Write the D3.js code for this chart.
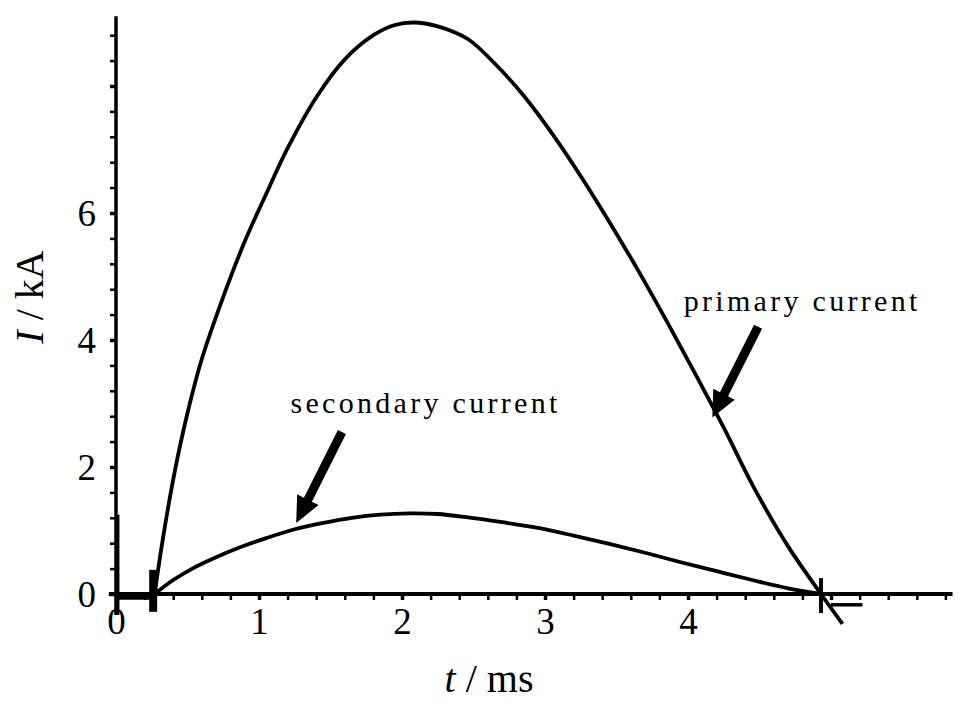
<!DOCTYPE html>
<html><head><meta charset="utf-8">
<script src="https://cdn.jsdelivr.net/npm/d3@7"></script>
<style>
body{margin:0;background:#fff;}
svg text{font-family:"Liberation Serif","Times New Roman",serif;fill:#000;}
</style></head>
<body><svg id="c" width="960" height="703"></svg>
<script>
// ---- data ----
const primaryT = [0.27,0.33,0.41,0.50,0.60,0.75,0.90,1.05,1.20,1.40,1.60,1.80,1.95,2.08,2.25,2.46,2.65,2.85,3.05,3.25,3.45,3.65,3.85,4.05,4.25,4.46,4.70,4.93,5.08];
const primaryI = [0,0.9,1.92,2.85,3.70,4.68,5.55,6.30,7.02,7.82,8.42,8.80,8.96,9.0,8.94,8.74,8.35,7.85,7.25,6.58,5.86,5.10,4.30,3.47,2.62,1.68,0.75,0,-0.47];
const secondaryT = [0.27,0.40,0.55,0.70,0.85,1.05,1.25,1.45,1.65,1.85,2.05,2.25,2.45,2.70,2.95,3.20,3.45,3.70,3.95,4.20,4.45,4.70,4.93];
const secondaryI = [0,0.22,0.42,0.58,0.72,0.88,1.02,1.12,1.20,1.25,1.27,1.26,1.21,1.13,1.04,0.92,0.79,0.65,0.50,0.36,0.22,0.09,0];
// extra recorded traces: [t0, I0, t1, I1]
const baselineSeg = [0.0,-0.05,0.26,-0.05];
const spikeSegs = [[0.01,-0.33,0.01,1.25],[0.26,-0.28,0.26,0.38],[4.93,0.25,4.93,-0.3],[5.0,-0.17,5.22,-0.17]];
const yTickValues = [0,0.4,0.8,1.2,1.6,2,2.4,2.8,3.2,3.6,4,4.4,4.8,5.2,5.6,6,6.4,6.8,7.2,7.6,8,8.4,8.8];
const yTickLabels = ["0","2","4","6"];
const xTickValues = [0,0.2,0.4,0.6,0.8,1,1.2,1.4,1.6,1.8,2,2.2,2.4,2.6,2.8,3,3.2,3.4,3.6,3.8,4,4.2,4.4,4.6,4.8,5,5.2,5.4,5.6,5.8];
const xTickLabels = ["0","1","2","3","4"];
const labels = [{text:"primary current", t:3.97, I:4.45},{text:"secondary current", t:1.22, I:2.85}];
const arrows = [{t0:4.49,I0:4.21,t1:4.17,I1:2.78},{t0:1.58,I0:2.55,t1:1.26,I1:1.12}];

// ---- chart ----
const svg = d3.select("#c");
const x = d3.scaleLinear().domain([0,5.85]).range([116,116+143*5.85]);
const y = d3.scaleLinear().domain([0,9.2]).range([594,594-63.5*9.2]);

// axes
const yAxis = d3.axisLeft(y).tickValues(yTickValues).tickSize(6).tickPadding(14)
  .tickFormat(d => yTickLabels.includes(String(d)) ? String(d) : "");
const gy = svg.append("g").attr("transform",`translate(${x(0)},0)`).call(yAxis);
gy.select(".domain").remove();
gy.selectAll(".tick line").attr("stroke","#000").attr("stroke-width",d=>Number.isInteger(d)?3.5:2.5);
gy.selectAll(".tick text").style("font-size","37px").attr("dy","0.35em");

const xAxis = d3.axisBottom(x).tickValues(xTickValues).tickSize(6).tickPadding(8)
  .tickFormat(d => xTickLabels.includes(String(d)) ? String(d) : "");
const gx = svg.append("g").attr("transform",`translate(0,${y(0)})`).call(xAxis);
gx.select(".domain").remove();
gx.selectAll(".tick line").attr("stroke","#000").attr("stroke-width",d=>Number.isInteger(d)?3.5:2.5);
gx.selectAll(".tick text").style("font-size","37px");

// axis lines
svg.append("line").attr("x1",x(0)).attr("x2",x(0)).attr("y1",y(9.1)).attr("y2",y(-0.33))
  .attr("stroke","#000").attr("stroke-width",3.5);
svg.append("line").attr("x1",x(-0.05)).attr("x2",x(5.85)).attr("y1",y(0)).attr("y2",y(0))
  .attr("stroke","#000").attr("stroke-width",4);

// traces
const line = d3.line().x(d=>x(d[0])).y(d=>y(d[1])).curve(d3.curveCatmullRom.alpha(0.5));
svg.append("path").datum(primaryT.map((t,i)=>[t,primaryI[i]])).attr("d",line)
  .attr("fill","none").attr("stroke","#000").attr("stroke-width",3.8);
svg.append("path").datum(secondaryT.map((t,i)=>[t,secondaryI[i]])).attr("d",line)
  .attr("fill","none").attr("stroke","#000").attr("stroke-width",3.8);
svg.append("line").attr("x1",x(baselineSeg[0])).attr("y1",y(baselineSeg[1]))
  .attr("x2",x(baselineSeg[2])).attr("y2",y(baselineSeg[3])).attr("stroke","#000").attr("stroke-width",5);
const spikeW = [4,8,4,3.5];
spikeSegs.forEach((s,i)=>{
  svg.append("line").attr("x1",x(s[0])).attr("y1",y(s[1])).attr("x2",x(s[2])).attr("y2",y(s[3]))
    .attr("stroke","#000").attr("stroke-width",spikeW[i]);
});

// arrows
arrows.forEach(a=>{
  const x0=x(a.t0),y0=y(a.I0),x1=x(a.t1),y1=y(a.I1);
  const dx=x1-x0, dy=y1-y0, L=Math.hypot(dx,dy), ux=dx/L, uy=dy/L, px=-uy, py=ux;
  const sw=4.5, hw=12, hl=26;
  const bx=x1-ux*hl, by=y1-uy*hl;
  const pts=[[x0+px*sw,y0+py*sw],[bx+px*sw,by+py*sw],[bx+px*hw,by+py*hw],[x1,y1],
             [bx-px*hw,by-py*hw],[bx-px*sw,by-py*sw],[x0-px*sw,y0-py*sw]];
  svg.append("polygon").attr("points",pts.map(p=>p.join(",")).join(" ")).attr("fill","#000");
});

// annotation labels
labels.forEach(l=>{
  svg.append("text").attr("x",x(l.t)).attr("y",y(l.I)).style("font-size","30px")
    .style("letter-spacing","3.3px").text(l.text);
});

// axis titles
const xt = svg.append("text").attr("x",489).attr("y",692).attr("text-anchor","middle").style("font-size","40px");
xt.append("tspan").style("font-style","italic").text("t");
xt.append("tspan").text(" / ms");
const yt = svg.append("text").attr("transform","translate(43,297) rotate(-90)").attr("text-anchor","middle").style("font-size","40px");
yt.append("tspan").style("font-style","italic").text("I");
yt.append("tspan").text(" / kA");
</script></body></html>
